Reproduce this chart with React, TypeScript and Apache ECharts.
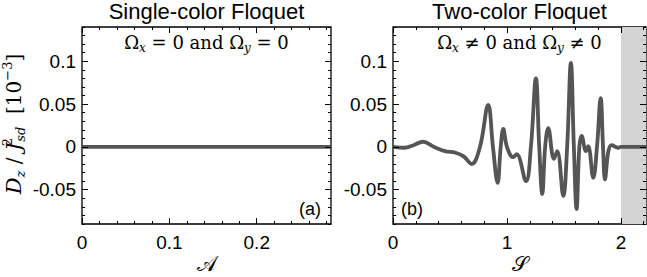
import React, { useEffect, useRef } from "react";
import * as echarts from "echarts";

// ---- data ----
const leftA = [0, 0.1, 0.2, 0.285];
const leftD = [0, 0, 0, 0];

const rightS = [
  0, 0.1, 0.18, 0.263, 0.36, 0.456, 0.55, 0.62, 0.69, 0.763, 0.835, 0.877, 0.918,
  0.945, 0.968, 1.0, 1.055, 1.085, 1.167, 1.21, 1.254, 1.283, 1.31, 1.335, 1.362,
  1.412, 1.441, 1.494, 1.528, 1.561, 1.587, 1.611, 1.635, 1.655, 1.693, 1.713,
  1.757, 1.79, 1.822, 1.843, 1.86, 1.89, 1.918, 1.976, 2.0, 2.22,
];
const rightD = [
  0, -0.001, 0.002, 0.006, 0.0, -0.005, -0.0068, -0.011, -0.02, 0.0, 0.049, 0.0, -0.042,
  0.0, 0.021, 0.0, -0.012, -0.0085, -0.04, 0.0, 0.08, 0.0, -0.055, 0.0, 0.022,
  -0.014, -0.005, -0.057, 0.0, 0.098, 0.0, -0.0725, 0.0, 0.013, -0.005, 0.001,
  -0.036, 0.0, 0.057, 0.0, -0.038, -0.005, 0.002, -0.001, 0.0, 0.0,
];

const yRange = [-0.09, 0.14];
const yMajor = [-0.05, 0, 0.05, 0.1];
const leftXRange = [0, 0.285];
const leftXMajor = [0, 0.1, 0.2];
const rightXRange = [0, 2.22];
const rightXMajor = [0, 1, 2];
const shadedS = [2, 2.22];

const titles = ["Single-color Floquet", "Two-color Floquet"];
const panelTags = ["(a)", "(b)"];

// ---- helpers ----
function minorTicks(min: number, max: number, step: number, major: number[]) {
  const out: number[] = [];
  const start = Math.ceil(min / step - 1e-9);
  const end = Math.floor(max / step + 1e-9);
  for (let k = start; k <= end; k++) {
    const v = Math.round(k * step * 1e6) / 1e6;
    if (!major.some((m) => Math.abs(m - v) < 1e-9)) out.push(v);
  }
  return out;
}

const SANS = '"Liberation Sans", Arial, sans-serif';
const SERIF = '"DejaVu Serif", "Liberation Serif", serif';

function fmt(v: number) {
  return String(Math.round(v * 1000) / 1000);
}

function axis(
  dim: "x" | "y",
  gridIndex: number,
  position: string,
  range: number[],
  ticks: number[],
  len: number,
  labels: boolean
) {
  return {
    type: "value",
    gridIndex,
    position,
    min: range[0],
    max: range[1],
    z: 5,
    axisLine: { show: false, onZero: false },
    splitLine: { show: false },
    axisTick: {
      show: true,
      inside: true,
      length: len,
      customValues: ticks,
      lineStyle: { color: "#000", width: 1 },
    },
    axisLabel: labels
      ? {
          show: true,
          customValues: ticks,
          inside: false,
          margin: dim === "x" ? 9 : 6,
          fontFamily: SANS,
          fontSize: 19,
          color: "#000",
          formatter: (v: number) => fmt(v),
        }
      : { show: false },
  };
}

export default function App() {
  const ref = useRef<HTMLDivElement>(null);

  useEffect(() => {
    if (!ref.current) return;
    const chart = echarts.init(ref.current, undefined, { renderer: "svg" });

    const grids = [
      { left: 82, top: 27, width: 249, height: 197 },
      { left: 393, top: 27, width: 253, height: 197 },
    ];
    const xr = [leftXRange, rightXRange];
    const xMaj = [leftXMajor, rightXMajor];
    const xStep = [0.02, 0.2];
    const yMin = minorTicks(yRange[0], yRange[1], 0.01, yMajor);

    const xAxis: any[] = [];
    const yAxis: any[] = [];
    for (let g = 0; g < 2; g++) {
      const xm = minorTicks(xr[g][0], xr[g][1], xStep[g], xMaj[g]);
      xAxis.push(axis("x", g, "bottom", xr[g], xMaj[g], 6, true));
      xAxis.push(axis("x", g, "bottom", xr[g], xm, 3, false));
      xAxis.push(axis("x", g, "top", xr[g], xMaj[g], 6, false));
      xAxis.push(axis("x", g, "top", xr[g], xm, 3, false));
      yAxis.push(axis("y", g, "left", yRange, yMajor, 6, true));
      yAxis.push(axis("y", g, "left", yRange, yMin, 3, false));
      yAxis.push(axis("y", g, "right", yRange, yMajor, 6, false));
      yAxis.push(axis("y", g, "right", yRange, yMin, 3, false));
    }

    const lineStyle = { color: "#555555", width: 3.8 };

    const centers = grids.map((gr) => gr.left + gr.width / 2);

    const mathRich = {
      n: { fontFamily: SERIF, fontSize: 18, color: "#000", lineHeight: 24 },
      s: {
        fontFamily: SERIF,
        fontStyle: "italic",
        fontSize: 12,
        color: "#000",
        lineHeight: 13,
        verticalAlign: "bottom",
      },
    };

    chart.setOption({
      animation: false,
      backgroundColor: "#fff",
      grid: grids.map((gr) => ({
        ...gr,
        show: true,
        borderColor: "#000",
        borderWidth: 1.3,
        backgroundColor: "transparent",
        containLabel: false,
      })),
      xAxis,
      yAxis,
      series: [
        {
          type: "line",
          xAxisIndex: 0,
          yAxisIndex: 0,
          data: leftA.map((a, i) => [a, leftD[i]]),
          showSymbol: false,
          lineStyle,
          z: 3,
        },
        {
          type: "line",
          xAxisIndex: 4,
          yAxisIndex: 4,
          data: rightS.map((s, i) => [s, rightD[i]]),
          showSymbol: false,
          smooth: 0.4,
          lineStyle,
          z: 3,
          markArea: {
            silent: true,
            itemStyle: { color: "#d4d4d4" },
            data: [[{ xAxis: shadedS[0] }, { xAxis: shadedS[1] }]],
          },
        },
      ],
      graphic: [
        ...titles.map((t, i) => ({
          type: "text",
          x: centers[i],
          y: 11,
          style: {
            text: t,
            fontFamily: SANS,
            fontSize: 22,
            fill: "#000",
            align: "center",
            verticalAlign: "middle",
          },
        })),
        {
          type: "text",
          x: centers[0],
          y: 42,
          style: {
            text: "{n|Ω}{s|x}{n| = 0 and Ω}{s|y}{n| = 0}",
            rich: mathRich,
            align: "center",
            verticalAlign: "middle",
          },
        },
        {
          type: "text",
          x: centers[1],
          y: 42,
          style: {
            text: "{n|Ω}{s|x}{n| ≠ 0 and Ω}{s|y}{n| ≠ 0}",
            rich: mathRich,
            align: "center",
            verticalAlign: "middle",
          },
        },
        {
          type: "text",
          x: 310,
          y: 209,
          style: {
            text: panelTags[0],
            fontFamily: SANS,
            fontSize: 18,
            fill: "#000",
            align: "center",
            verticalAlign: "middle",
          },
        },
        {
          type: "text",
          x: 412,
          y: 209,
          style: {
            text: panelTags[1],
            fontFamily: SANS,
            fontSize: 18,
            fill: "#000",
            align: "center",
            verticalAlign: "middle",
          },
        },
        {
          type: "text",
          x: centers[0],
          y: 264,
          style: {
            text: "𝒜",
            fontFamily: '"DejaVu Serif", "DejaVu Sans", serif',
            fontSize: 21,
            fill: "#000",
            align: "center",
            verticalAlign: "middle",
          },
        },
        {
          type: "text",
          x: centers[1],
          y: 264,
          style: {
            text: "𝒮",
            fontFamily: '"DejaVu Serif", "DejaVu Sans", serif',
            fontSize: 21,
            fill: "#000",
            align: "center",
            verticalAlign: "middle",
          },
        },
        {
          type: "text",
          x: 14,
          y: 124,
          rotation: Math.PI / 2,
          style: {
            text: "{i|D}{sub|z}{n| / }{i|J}{sup2|2}{sub|sd}{n|  [10}{sup|−3}{n|]}",
            align: "center",
            verticalAlign: "middle",
            rich: {
              i: {
                fontFamily: SERIF,
                fontStyle: "italic",
                fontSize: 21,
                color: "#000",
                lineHeight: 26,
              },
              n: { fontFamily: SERIF, fontSize: 20, color: "#000", lineHeight: 26 },
              sub: {
                fontFamily: SERIF,
                fontStyle: "italic",
                fontSize: 13,
                color: "#000",
                lineHeight: 13,
                verticalAlign: "bottom",
              },
              sup: {
                fontFamily: SERIF,
                fontSize: 13,
                color: "#000",
                lineHeight: 13,
                verticalAlign: "top",
              },
              sup2: {
                fontFamily: SERIF,
                fontSize: 13,
                color: "#000",
                lineHeight: 13,
                verticalAlign: "top",
                width: 1,
              },
            },
          },
        },
      ],
    });

    return () => chart.dispose();
  }, []);

  return (
    <div
      ref={ref}
      style={{ position: "absolute", left: 0, top: 0, width: 647, height: 277 }}
    />
  );
}
